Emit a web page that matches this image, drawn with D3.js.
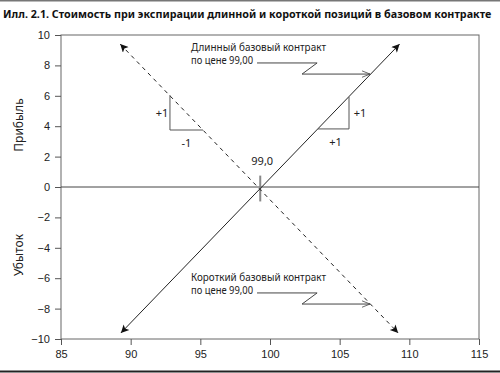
<!DOCTYPE html>
<html>
<head>
<meta charset="utf-8">
<script src="https://cdn.jsdelivr.net/npm/d3@7"></script>
<style>
  body { margin: 0; background: #fff; }
  svg { display: block; font-family: "Noto Sans", "Open Sans", sans-serif; }
</style>
</head>
<body>
<svg id="chart" width="500" height="373"></svg>
<script>
// --- data ---
const titleText = "Илл. 2.1. Стоимость при экспирации длинной и короткой позиций в базовом контракте";
const xTicks = [85, 90, 95, 100, 105, 110, 115];
const yTicks = [-10, -8, -6, -4, -2, 0, 2, 4, 6, 8, 10];
const yTickLabels = ["−10", "−8", "−6", "−4", "−2", "0", "2", "4", "6", "8", "10"];
const longLine = [[89.3, -9.6], [109.3, 9.4]];
const shortLine = [[89.25, 9.4], [109.2, -9.6]];
const breakEven = 99.3;
const breakEvenLabel = "99,0";
const leftTriangle = [[92.82, 6.05], [92.82, 3.75], [95.19, 3.75]];
const rightTriangle = [[103.45, 3.82], [105.67, 3.82], [105.67, 5.92]];
const longCallout = [[99.07, 8.16], [103.38, 8.16], [102.3, 7.43], [107.18, 7.43]];
const shortCallout = [[99.07, -6.97], [103.38, -6.97], [102.3, -7.7], [107.18, -7.7]];
const longText = ["Длинный базовый контракт", "по цене 99,00"];
const shortText = ["Короткий базовый контракт", "по цене 99,00"];

const svg = d3.select("#chart");

const x = d3.scaleLinear().domain([85, 115]).range([61, 479]);
const y = d3.scaleLinear().domain([-10, 10]).range([339, 35]);

var line = d3.line().x(function(d) { return x(d[0]); }).y(function(d) { return y(d[1]); });

// frame lines of the page
svg.append("line").attr("x1", 0).attr("x2", 500).attr("y1", 0.75).attr("y2", 0.75)
    .attr("stroke", "#777").attr("stroke-width", 1.5);
svg.append("line").attr("x1", 0).attr("x2", 500).attr("y1", 371.5).attr("y2", 371.5)
    .attr("stroke", "#222").attr("stroke-width", 2);

// title: condensed face, shrink the size until it fits the width
var title = svg.append("text")
    .attr("x", 3).attr("y", 17.5)
    .attr("font-family", "'Liberation Sans Narrow', 'Noto Sans', sans-serif")
    .attr("font-weight", 700)
    .attr("fill", "#111")
    .text(titleText);
var titleSize = 13.5;
title.attr("font-size", titleSize);
while (title.node().getComputedTextLength() > 492 && titleSize > 8) {
    titleSize -= 0.25;
    title.attr("font-size", titleSize);
}

var defs = svg.append("defs");
defs.append("marker")
    .attr("id", "head")
    .attr("viewBox", "0 0 10 10")
    .attr("refX", 10).attr("refY", 5)
    .attr("markerWidth", 11).attr("markerHeight", 8)
    .attr("markerUnits", "userSpaceOnUse")
    .attr("orient", "auto-start-reverse")
    .append("path").attr("d", "M0,0 L10,5 L0,10 L2.5,5 Z").attr("fill", "#111");
defs.append("marker")
    .attr("id", "open")
    .attr("viewBox", "0 0 10 10")
    .attr("refX", 10).attr("refY", 5)
    .attr("markerWidth", 10).attr("markerHeight", 8)
    .attr("markerUnits", "userSpaceOnUse")
    .attr("orient", "auto")
    .append("path").attr("d", "M0,1 L10,5 L0,9").attr("fill", "none")
    .attr("stroke", "#444").attr("stroke-width", 1);

// plot box
svg.append("rect")
    .attr("x", x(85)).attr("y", y(10))
    .attr("width", x(115) - x(85)).attr("height", y(-10) - y(10))
    .attr("fill", "none").attr("stroke", "#666").attr("stroke-width", 1);

// zero line
svg.append("line")
    .attr("x1", x(85)).attr("x2", x(115)).attr("y1", y(0)).attr("y2", y(0))
    .attr("stroke", "#444").attr("stroke-width", 1);

// axes
var xAxis = d3.axisBottom(x).tickValues(xTicks).tickSize(6).tickSizeOuter(0).tickPadding(5);
var gx = svg.append("g").attr("transform", "translate(0," + y(-10) + ")").call(xAxis);
gx.select(".domain").remove();
gx.selectAll("line").attr("stroke", "#555");
gx.selectAll("text").attr("font-size", 11).attr("fill", "#222").attr("font-family", null);

var yAxis = d3.axisLeft(y).tickValues(yTicks).tickSize(6).tickSizeOuter(0).tickPadding(5)
    .tickFormat(function(d, i) { return yTickLabels[i]; });
var gy = svg.append("g").attr("transform", "translate(" + x(85) + ",0)").call(yAxis);
gy.select(".domain").remove();
gy.selectAll("line").attr("stroke", "#555");
gy.selectAll("text").attr("font-size", 11).attr("fill", "#222").attr("font-family", null);

// axis titles
svg.append("text").attr("transform", "translate(23,125) rotate(-90)")
    .attr("text-anchor", "middle").attr("font-size", 12).attr("fill", "#222").text("Прибыль");
svg.append("text").attr("transform", "translate(23,255) rotate(-90)")
    .attr("text-anchor", "middle").attr("font-size", 12).attr("fill", "#222").text("Убыток");

// break-even marker
svg.append("line")
    .attr("x1", x(breakEven)).attr("x2", x(breakEven))
    .attr("y1", y(0.75)).attr("y2", y(-0.95))
    .attr("stroke", "#888").attr("stroke-width", 2);
svg.append("text")
    .attr("x", x(breakEven) + 2).attr("y", y(0) - 22)
    .attr("text-anchor", "middle").attr("font-size", 11).attr("fill", "#222")
    .text(breakEvenLabel);

// payoff lines
svg.append("path").datum(longLine)
    .attr("d", line).attr("fill", "none")
    .attr("stroke", "#222").attr("stroke-width", 1)
    .attr("marker-start", "url(#head)").attr("marker-end", "url(#head)");
svg.append("path").datum(shortLine)
    .attr("d", line).attr("fill", "none")
    .attr("stroke", "#222").attr("stroke-width", 1).attr("stroke-dasharray", "4,4")
    .attr("marker-start", "url(#head)").attr("marker-end", "url(#head)");

// slope triangles
[leftTriangle, rightTriangle].forEach(function(t) {
    svg.append("path").datum(t).attr("d", line)
        .attr("fill", "none").attr("stroke", "#555").attr("stroke-width", 1);
});
var small = [
    {x: x(leftTriangle[0][0]) - 8, y: y(4.9), t: "+1"},
    {x: (x(leftTriangle[1][0]) + x(leftTriangle[2][0])) / 2, y: y(3.75) + 13, t: "-1"},
    {x: x(rightTriangle[1][0]) + 11, y: y(4.9), t: "+1"},
    {x: (x(rightTriangle[0][0]) + x(rightTriangle[1][0])) / 2 + 2, y: y(3.82) + 13, t: "+1"}
];
svg.selectAll("text.slope").data(small).enter().append("text")
    .attr("class", "slope")
    .attr("x", function(d) { return d.x; })
    .attr("y", function(d) { return d.y + 4; })
    .attr("text-anchor", "middle").attr("font-size", 11).attr("fill", "#222")
    .text(function(d) { return d.t; });

// callouts
function callout(pts, lines) {
    svg.append("path").datum(pts).attr("d", line)
        .attr("fill", "none").attr("stroke", "#444").attr("stroke-width", 1)
        .attr("marker-end", "url(#open)");
    var x0 = x(pts[0][0]) - 66, y0 = y(pts[0][1]);
    svg.append("text").attr("x", x0).attr("y", y0 - 11.5)
        .attr("font-size", 10).attr("fill", "#222")
        .attr("textLength", 135).attr("lengthAdjust", "spacingAndGlyphs")
        .text(lines[0]);
    svg.append("text").attr("x", x0).attr("y", y0 + 1.5)
        .attr("font-size", 10).attr("fill", "#222")
        .attr("textLength", 62).attr("lengthAdjust", "spacingAndGlyphs")
        .text(lines[1]);
}
callout(longCallout, longText);
callout(shortCallout, shortText);
</script>
</body>
</html>
